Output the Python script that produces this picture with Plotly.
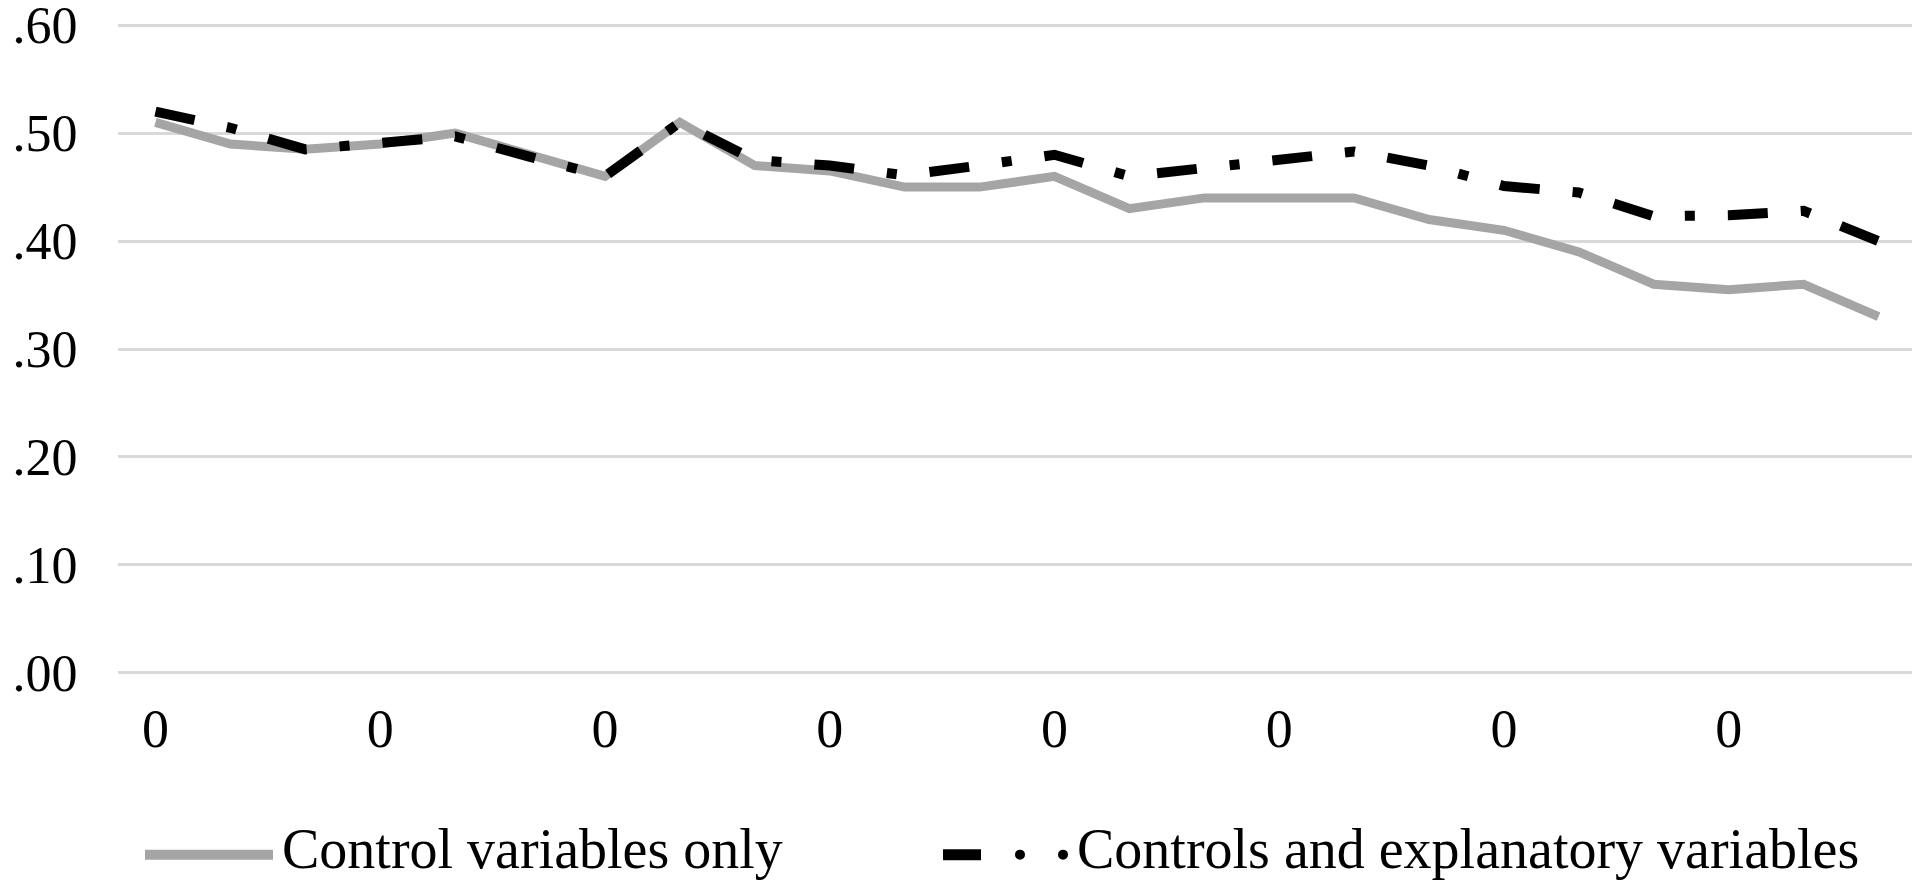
import plotly.graph_objects as go

# Data
points = list(range(24))
x_tick_positions = [0, 3, 6, 9, 12, 15, 18, 21]
x_tick_labels = ["0", "0", "0", "0", "0", "0", "0", "0"]

control_only = [0.51, 0.49, 0.485, 0.49, 0.50, 0.48, 0.46, 0.51, 0.47, 0.465,
                 0.45, 0.45, 0.46, 0.43, 0.44, 0.44, 0.44, 0.42, 0.41, 0.39,
                 0.36, 0.355, 0.36, 0.33]
controls_explanatory = [0.52, 0.505, 0.485, 0.49, 0.497, 0.478, 0.46, 0.51, 0.475, 0.47,
                        0.461, 0.47, 0.48, 0.46, 0.467, 0.475, 0.483, 0.47, 0.451, 0.445,
                        0.423, 0.424, 0.428, 0.40]

y_tick_values = [0.0, 0.1, 0.2, 0.3, 0.4, 0.5, 0.6]
y_tick_labels = [".00", ".10", ".20", ".30", ".40", ".50", ".60"]

series_names = ["Control variables only", "Controls and explanatory variables"]
series_colors = ["#A5A5A5", "#000000"]

FONT = "Liberation Serif, Times New Roman, serif"
W, H = 1920, 884
OFFX, OFFY = 8, 5           # page body margin offset compensation
PL, PR = 118 - OFFX, 1916 - OFFX   # plot area left / right in figure px
PT, PB = 22 - OFFY, 670 - OFFY     # y of .60 and .00 in figure px
PAD = 0.003                 # small range padding so edge gridlines show
ppu = (PB - PT) / 0.6
top_px = PT - PAD * ppu
bot_px = PB + PAD * ppu


def px_x(px):
    return (px - OFFX - PL) / (PR - PL)


def px_y(py):
    return (bot_px - (py - OFFY)) / (bot_px - top_px)


fig = go.Figure()
fig.add_trace(go.Scatter(
    x=points, y=control_only, name=series_names[0], mode="lines",
    line=dict(color=series_colors[0], width=9),
))
fig.add_trace(go.Scatter(
    x=points, y=controls_explanatory, name=series_names[1], mode="lines",
    line=dict(color=series_colors[1], width=10, dash="40px,33px,10px,33px"),
))

# Manual legend (matching the reference's sample styles); screen px positions
LEG_Y = 852
TXT_Y = 846
shapes = [
    dict(type="line", xref="paper", yref="paper",
         x0=px_x(145), x1=px_x(273), y0=px_y(LEG_Y), y1=px_y(LEG_Y),
         line=dict(color=series_colors[0], width=10)),
    dict(type="line", xref="paper", yref="paper",
         x0=px_x(943), x1=px_x(981), y0=px_y(LEG_Y), y1=px_y(LEG_Y),
         line=dict(color=series_colors[1], width=11)),
]
for cx in (1020, 1063):
    r = 5
    shapes.append(dict(type="circle", xref="paper", yref="paper",
                       x0=px_x(cx - r), x1=px_x(cx + r),
                       y0=px_y(LEG_Y + r), y1=px_y(LEG_Y - r),
                       fillcolor=series_colors[1], line=dict(width=0)))

annotations = [
    dict(text=series_names[0], xref="paper", yref="paper", x=px_x(280), y=px_y(TXT_Y),
         xanchor="left", yanchor="middle", showarrow=False,
         font=dict(family=FONT, size=56, color="black")),
    dict(text=series_names[1], xref="paper", yref="paper", x=px_x(1075), y=px_y(TXT_Y),
         xanchor="left", yanchor="middle", showarrow=False,
         font=dict(family=FONT, size=56, color="black")),
]

fig.update_layout(
    width=W, height=H,
    paper_bgcolor="white", plot_bgcolor="white",
    margin=dict(l=PL, r=W - PR, t=top_px, b=H - bot_px, autoexpand=False),
    font=dict(family=FONT, size=54, color="black"),
    showlegend=False,
    shapes=shapes,
    annotations=annotations,
    xaxis=dict(
        range=[-0.5, 23.5], tickmode="array", tickvals=x_tick_positions,
        ticktext=x_tick_labels, showgrid=False, zeroline=False, showline=False,
        ticks="outside", ticklen=5, tickcolor="rgba(0,0,0,0)",
        tickfont=dict(family=FONT, size=54, color="black"),
    ),
    yaxis=dict(
        range=[-PAD, 0.6 + PAD], tickmode="array", tickvals=y_tick_values,
        ticktext=y_tick_labels, showgrid=True, gridcolor="#D9D9D9", gridwidth=3,
        zeroline=False, showline=False,
        ticks="outside", ticklen=29, tickcolor="rgba(0,0,0,0)",
        ticklabeloverflow="allow",
        tickfont=dict(family=FONT, size=52, color="black"),
    ),
)

fig.write_html("out.html")
